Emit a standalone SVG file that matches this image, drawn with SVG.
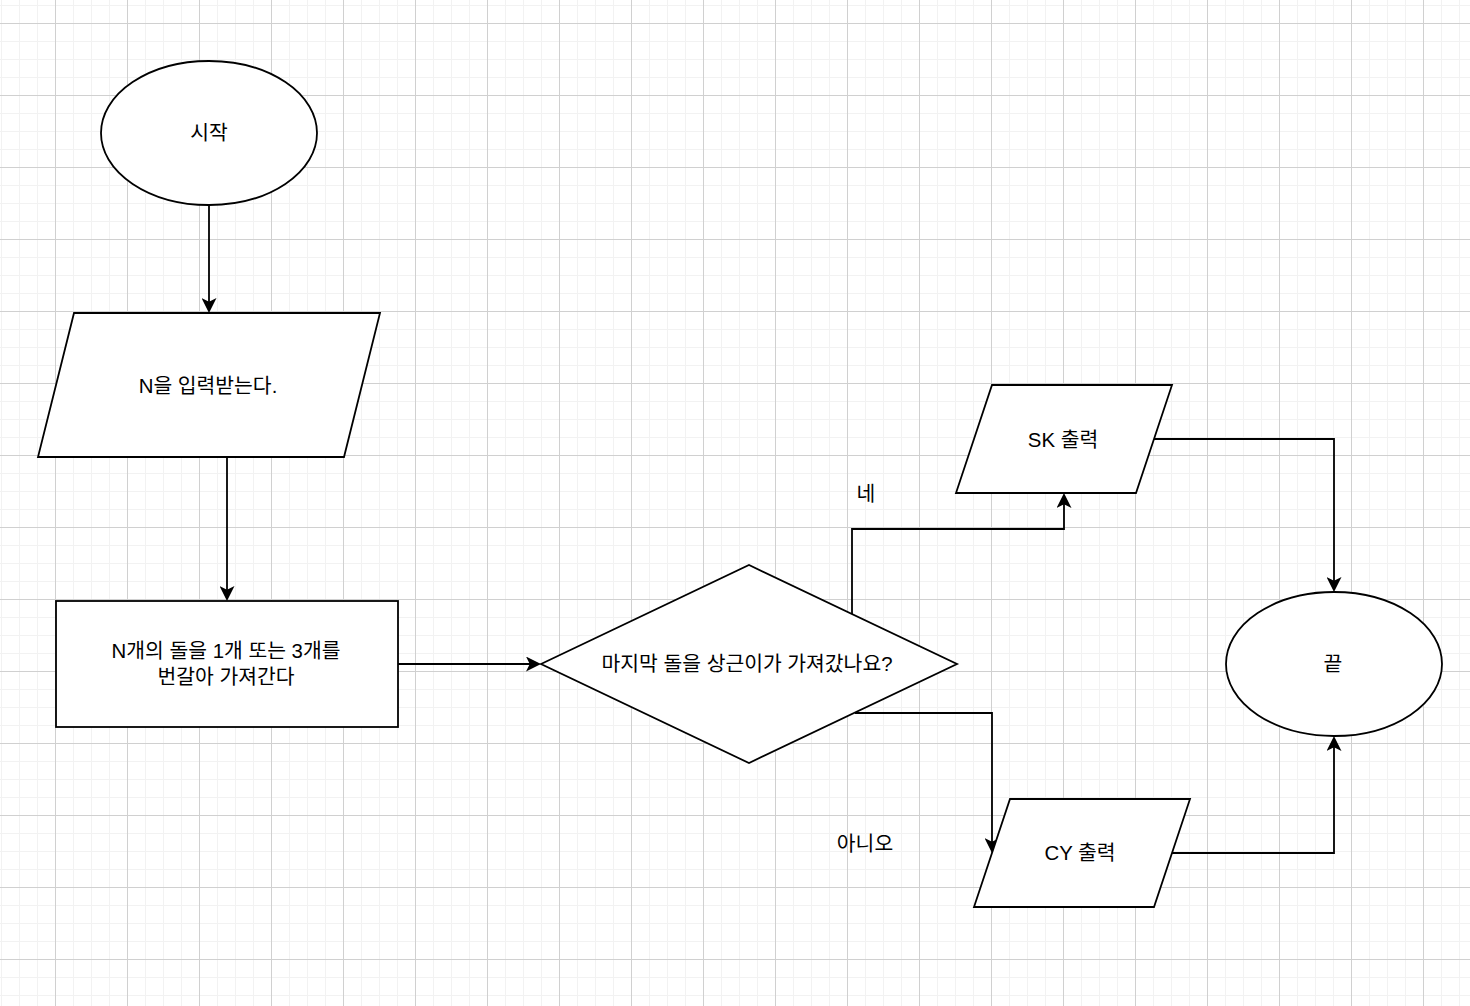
<svg xmlns="http://www.w3.org/2000/svg" width="1470" height="1006" viewBox="0 0 1470 1006">
<defs>
<pattern id="grid" x="55" y="23" width="72" height="72" patternUnits="userSpaceOnUse">
<path d="M18.5 0V72M36.5 0V72M54.5 0V72M0 18.5H72M0 36.5H72M0 54.5H72" stroke="#f2f2f2" stroke-width="1" fill="none"/>
<path d="M0.5 0V72M0 0.5H72" stroke="#d0d0d0" stroke-width="1" fill="none"/>
</pattern>
<marker id="arr" viewBox="0 0 15 15" refX="11" refY="7.5" markerWidth="15" markerHeight="15" markerUnits="userSpaceOnUse" orient="auto">
<path d="M0 0L15 7.5L0 15L3.75 7.5Z" fill="#000"/>
</marker>
<style>
.s{fill:#fff;stroke:#000;stroke-width:1.8}
.t{font-family:"Liberation Sans","Noto Sans CJK KR",sans-serif;font-size:20.4px;fill:#000;text-anchor:middle;dominant-baseline:central}
.e{fill:none;stroke:#000;stroke-width:1.8;marker-end:url(#arr)}
</style>
</defs>
<rect width="1470" height="1006" fill="#fff"/>
<rect width="1470" height="1006" fill="url(#grid)"/>
<g id="edges">
<path class="e" d="M209 205V309"/>
<path class="e" d="M227 457V597"/>
<path class="e" d="M398 664H537"/>
<path class="e" d="M852 614V529H1064V497"/>
<path class="e" d="M855 713H992V849"/>
<path class="e" d="M1154 439H1334V588"/>
<path class="e" d="M1172 853H1334V740"/>
</g>
<g id="start"><ellipse class="s" cx="209" cy="133" rx="108" ry="72"/><text class="t" x="209" y="133">시작</text></g>
<g id="input"><polygon class="s" points="74,313 380,313 344,457 38,457"/><text class="t" x="208" y="386">N을 입력받는다.</text></g>
<g id="process"><rect class="s" x="56" y="601" width="342" height="126"/><text class="t" x="226" y="651">N개의 돌을 1개 또는 3개를</text><text class="t" x="226" y="677">번갈아 가져간다</text></g>
<g id="decision"><polygon class="s" points="541,664 749,565 957,664 749,763"/><text class="t" x="747" y="664">마지막 돌을 상근이가 가져갔나요?</text></g>
<g id="sk"><polygon class="s" points="992,385 1172,385 1136,493 956,493"/><text class="t" x="1063" y="440">SK 출력</text></g>
<g id="cy"><polygon class="s" points="1010,799 1190,799 1154,907 974,907"/><text class="t" x="1080" y="853">CY 출력</text></g>
<g id="end"><ellipse class="s" cx="1334" cy="664" rx="108" ry="72"/><text class="t" x="1333" y="664">끝</text></g>
<g id="labels"><text class="t" x="866" y="494">네</text><text class="t" x="865" y="844">아니오</text></g>
</svg>
